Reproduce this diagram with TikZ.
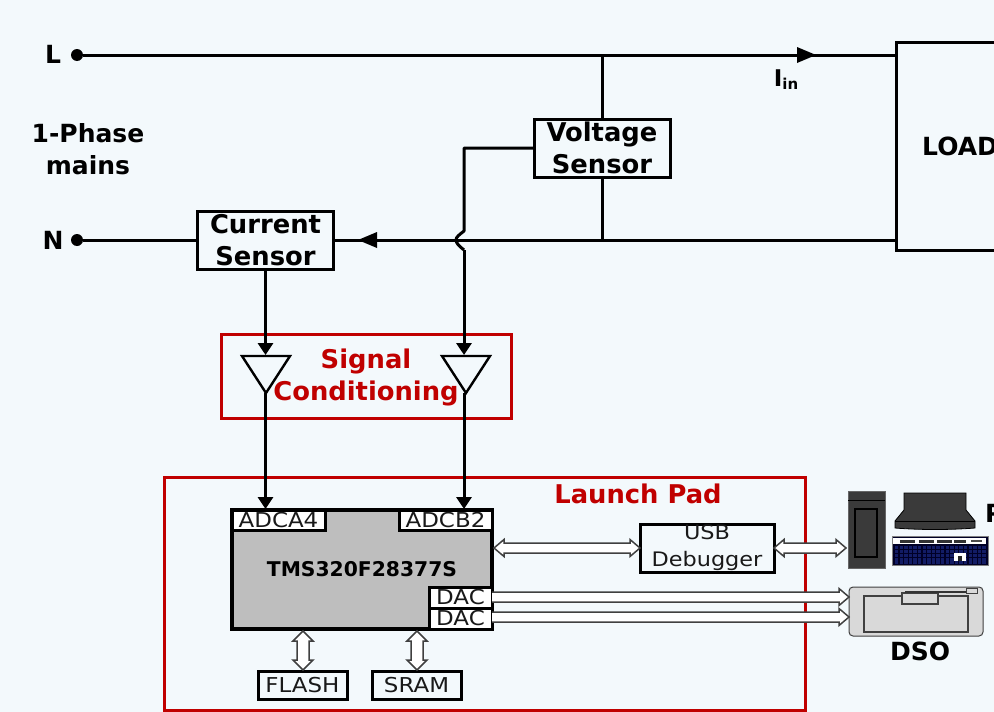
\documentclass[tikz,border=0pt]{standalone}
\usepackage{fontspec}
\setmainfont{DejaVu Sans}
\newfontfamily\widefont[FakeStretch=1.12]{DejaVu Sans}
\usetikzlibrary{arrows.meta,calc}
\definecolor{bgc}{HTML}{F3F9FC}
\definecolor{redc}{HTML}{C00000}
\definecolor{chipc}{HTML}{BEBEBE}
\definecolor{darkc}{HTML}{3A3A3A}
\definecolor{dsoc}{HTML}{D9D9D9}
\definecolor{keyc}{HTML}{16233F}
\tikzset{
  wire/.style={draw=black,line width=3pt},
  sig/.style={wire,-{Triangle[length=12pt,width=15pt]}},
  boxed/.style={draw=black,line width=3pt,inner sep=0pt,outer sep=0pt,align=center},
  sensor/.style={boxed,font=\fontsize{25.8}{32}\selectfont\bfseries,text depth=0pt},
  port/.style={boxed,fill=white,font=\widefont\fontsize{20.5}{20.5}\selectfont,text=black!90},
  redbox/.style={draw=redc,line width=3pt,inner sep=0pt,outer sep=0pt},
  lbl/.style={inner sep=0pt,font=\fontsize{25}{32}\selectfont\bfseries,align=center},
  redlbl/.style={lbl,font=\fontsize{25.8}{32}\selectfont\bfseries,text=redc},
  bus/.style={draw=black!75,line width=1.5pt,fill=white,line join=miter},
  dotnode/.style={circle,fill=black,inner sep=0pt,minimum size=12pt},
}
% horizontal two-headed, horizontal one-headed and vertical two-headed hollow arrows
\newcommand{\hbus}[2]{\draw[bus] (#1) -- ++(10,-8.5) -- ++(0,3.5) -- ($(#2)+(-10,-5)$) -- ++(0,-3.5) -- (#2) -- ++(-10,8.5) -- ++(0,-3.5) -- ($(#1)+(10,5)$) -- ++(0,3.5) -- cycle;}
\newcommand{\honeway}[2]{\draw[bus] ($(#1)+(0,-5)$) -- ($(#2)+(-10,-5)$) -- ++(0,-3.5) -- (#2) -- ++(-10,8.5) -- ++(0,-3.5) -- ($(#1)+(0,5)$);}
\newcommand{\vbus}[2]{\draw[bus] (#1) -- ++(10,10) -- ++(-4,0) -- ($(#2)+(6,-10)$) -- ++(4,0) -- (#2) -- ++(-10,-10) -- ++(4,0) -- ($(#1)+(-6,10)$) -- ++(-4,0) -- cycle;}
\begin{document}
\begin{tikzpicture}[x=1pt,y=-1pt]
\useasboundingbox (0,0) rectangle (994,712);
\clip (0,0) rectangle (994,712);
\fill[bgc] (0,0) rectangle (994,712);

% mains
\node[lbl] (lL) at (53,54) {L};
\node[lbl] (lN) at (53,240) {N};
\node[lbl] (mains) at (88,149) {1-Phase\\mains};
\node[dotnode] (dL) at (77,55) {};
\node[dotnode] (dN) at (77,240) {};
\node[boxed,minimum width=120pt,minimum height=208pt,anchor=north west] (load) at (896,42) {};
\node[lbl,anchor=west] (loadt) at (922,146) {LOAD};
\node[sensor,minimum width=136pt,minimum height=58pt] (volt) at (602,148) {Voltage\\Sensor};
\node[sensor,minimum width=136pt,minimum height=58pt] (cur) at (265.5,240) {Current\\Sensor};
\coordinate (topj) at (602,55);
\coordinate (botj) at (602,240);
\coordinate (loadtop) at (896,55);
\coordinate (loadbot) at (896,240);
\draw[wire] (dL) -- (loadtop);
\draw[wire] (dN) -- (cur.west);
\draw[wire] (cur.east) -- (loadbot);
\draw[wire] (topj) -- (volt.north);
\draw[wire] (volt.south) -- (botj);
\fill (797,47) -- (816,55) -- (797,63) -- cycle;
\fill (377,232) -- (358,240) -- (377,248) -- cycle;
\node[inner sep=0pt,font=\fontsize{23}{23}\selectfont\bfseries] (iin) at (786,80) {I\raisebox{-3pt}{\fontsize{15}{15}\selectfont in}};

% signal conditioning
\node[redbox,minimum width=290pt,minimum height=84pt,anchor=north west] (sc) at (221,334) {};
\node[redlbl] (sct) at (366,377) {Signal\\Conditioning};
\coordinate (t1) at (265.5,355);
\coordinate (a1) at (265.5,393);
\coordinate (t2) at (464,355);
\coordinate (a2) at (464,393);
\draw[draw=black,line width=2.4pt,line join=miter] (242,356) -- (290,356) -- (266,393) -- cycle;
\draw[draw=black,line width=2.4pt,line join=miter] (442,356) -- (490,356) -- (466,393) -- cycle;

% launch pad
\node[redbox,minimum width=641pt,minimum height=233pt,anchor=north west] (lp) at (164,477) {};
\node[redlbl] (lpt) at (638,494) {Launch Pad};
\node[boxed,fill=chipc,minimum width=260pt,minimum height=119pt,anchor=north west,line width=3.2pt] (chip) at (232,510) {};
\node[inner sep=0pt,font=\fontsize{20.3}{20}\selectfont\bfseries] (chipt) at (362,569) {TMS320F28377S};
\node[port,minimum width=93pt,minimum height=20pt,anchor=north west] (adca) at (232,510) {ADCA4};
\node[port,minimum width=93pt,minimum height=20pt,anchor=north west] (adcb) at (399,510) {ADCB2};
\node[port,minimum width=63pt,minimum height=21pt,anchor=north west] (dac1) at (429,587) {DAC};
\node[port,minimum width=63pt,minimum height=21pt,anchor=north west] (dac2) at (429,608) {DAC};
\node[port,fill=none,minimum width=89pt,minimum height=28pt,anchor=north west] (flash) at (258,671) {FLASH};
\node[port,fill=none,minimum width=89pt,minimum height=28pt,anchor=north west] (sram) at (372,671) {SRAM};
\node[port,fill=none,minimum width=134pt,minimum height=48pt,anchor=north west,font=\widefont\fontsize{20}{27}\selectfont] (usb) at (640,524) {USB\\Debugger};

% sensor connections
\coordinate (vcorner) at (464,148);
\coordinate (hop1) at (464,231);
\coordinate (hop2) at (464,250);
\draw[wire,line join=round] (volt.west) -- (vcorner) -- (hop1) .. controls (459,235) and (456,237) .. (456,240) .. controls (456,243) and (459,246) .. (hop2);
\draw[sig] (hop2) -- (t2);
\draw[sig] (cur.south) -- (t1);
\coordinate (in1) at (265.5,509);
\coordinate (in2) at (464,509);
\draw[sig] (a1) -- (in1);
\draw[sig] (a2) -- (in2);

% PC
\node[draw=black!60,line width=.8pt,fill=darkc,minimum width=37pt,minimum height=77pt,inner sep=0pt,outer sep=0pt,anchor=north west] (tower) at (848,491) {};
\draw[black,line width=1pt] (848,500) -- (885,500);
\draw[black,line width=1.2pt] (855,509) rectangle (877,557);
\fill[darkc,draw=black,line width=.8pt] (904,493) -- (966,493) -- (966,510) -- (975,521) -- (975,528) .. controls (950,530) and (920,530) .. (895,528) -- (895,521) -- (904,510) -- cycle;
\draw[black,line width=.8pt] (895,521) -- (975,521);
\fill[black!85!blue,draw=black!50,line width=.8pt] (892,536) rectangle (988,565);
\fill[white] (893,538) rectangle (986,544);
\foreach \x/\w in {900/15,919/15,937/15,954/12}{\fill[black!80] (\x,540) rectangle ++(\w,2.5);}
\fill[black!70] (971,540) rectangle (982,542);
\foreach \r in {546,550,554,558,561}{
  \foreach \c in {0,...,19}{\fill[keyc!80!blue] (895+\c*4.6,\r) rectangle ++(3.4,2.6);}
}
\fill[white] (954,553) rectangle (966,561);
\fill[black!85] (958,556) rectangle (962,561);
\node[lbl,anchor=west] (pc) at (985,513) {PC};

% DSO
\node[draw=black!75,line width=1pt,fill=dsoc,rounded corners=4pt,minimum width=134pt,minimum height=49pt,inner sep=0pt,outer sep=0pt,anchor=north west] (dso) at (849,587) {};
\draw[black!75,line width=1.2pt] (864,596) rectangle (968,632);
\draw[black!75,line width=1.2pt,fill=dsoc] (902,593) rectangle (938,604);
\draw[black!80,line width=1.2pt] (905,592) -- (966,592);
\draw[black!75,line width=.8pt,fill=dsoc] (966,588) rectangle (977,593);
\node[lbl] (dsot) at (920,651) {DSO};

% buses
\coordinate (b1) at (494,548);
\coordinate (b2) at (846,548);
\coordinate (d1) at (849,597);
\coordinate (d2) at (849,617);
\coordinate (f0) at (303,631);
\coordinate (f1) at (303,670);
\coordinate (s0) at (417,631);
\coordinate (s1) at (417,670);
\hbus{b1}{usb.west}
\hbus{usb.east}{b2}
\honeway{dac1.east |- d1}{d1}
\honeway{dac2.east |- d2}{d2}
\vbus{f0}{f1}
\vbus{s0}{s1}
\end{tikzpicture}
\end{document}
